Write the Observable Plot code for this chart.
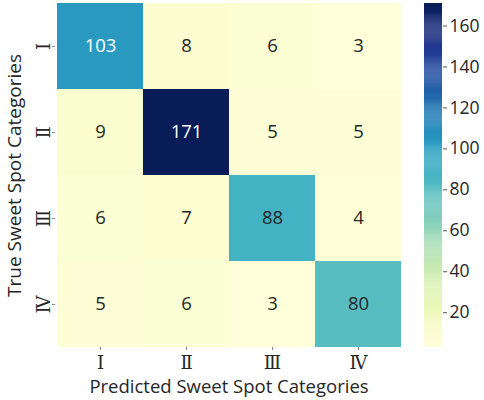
<!DOCTYPE html>
<html>
<head>
<meta charset="utf-8">
<script src="https://cdn.jsdelivr.net/npm/d3@7"></script>
<script src="https://cdn.jsdelivr.net/npm/@observablehq/plot@0.6"></script>
<style>
  html, body { margin: 0; padding: 0; background: #fff; }
  #wrap { position: relative; width: 484px; height: 400px; }
  #wrap svg { position: absolute; top: 0; overflow: visible; }
</style>
</head>
<body>
<div id="wrap"></div>
<script>
const trueLabels = ["Ⅰ", "Ⅱ", "Ⅲ", "Ⅳ"];
const predLabels = ["Ⅰ", "Ⅱ", "Ⅲ", "Ⅳ"];
const matrix = [
  [103, 8, 6, 3],
  [9, 171, 5, 5],
  [6, 7, 88, 4],
  [5, 6, 3, 80]
];
const colorTicks = [20, 40, 60, 80, 100, 120, 140, 160];
const xTitle = "Predicted Sweet Spot Categories";
const yTitle = "True Sweet Spot Categories";

const cells = [];
matrix.forEach((row, i) => row.forEach((v, j) => cells.push({t: trueLabels[i], p: predLabels[j], v})));
const vmin = d3.min(cells, d => d.v), vmax = d3.max(cells, d => d.v);
const colorOpts = {type: "linear", scheme: "YlGnBu", domain: [vmin, vmax]};
const font = "'Open Sans', 'Noto Sans', sans-serif";
const romanFont = "'DejaVu Serif', serif";

const main = Plot.plot({
  width: 484, height: 400,
  marginLeft: 55, marginRight: 82, marginTop: 3, marginBottom: 53,
  style: {fontFamily: font, color: "#262626", background: "transparent"},
  x: {domain: predLabels, padding: 0, label: null},
  y: {domain: trueLabels, padding: 0, label: null},
  color: colorOpts,
  marks: [
    Plot.cell(cells, {x: "p", y: "t", fill: "v"}),
    Plot.text(cells, {x: "p", y: "t", text: d => String(d.v), fontSize: 18.5,
      fill: d => { const c = d3.lab(d3.interpolateYlGnBu((d.v - vmin) / (vmax - vmin))); return c.l < 60 ? "#ffffff" : "#262626"; }}),
    Plot.axisX({tickSize: 3, stroke: "#888", fontSize: 18, tickPadding: 6, fontFamily: romanFont, label: null}),
    Plot.axisY({tickSize: 3, stroke: "#888", fontSize: 18, tickPadding: 3, tickRotate: -90, fontFamily: romanFont, label: null}),
    Plot.text([xTitle], {frameAnchor: "bottom", dy: 40, text: d => d, fontSize: 18.5, textAnchor: "middle", lineAnchor: "middle"}),
    Plot.text([yTitle], {frameAnchor: "left", dx: -41, rotate: -90, text: d => d, fontSize: 19, textAnchor: "middle", lineAnchor: "middle"})
  ]
});
main.style.left = "0px";
document.getElementById("wrap").appendChild(main);

const step = 0.5;
const strips = d3.range(vmin, vmax, step);
const bar = Plot.plot({
  width: 80, height: 400,
  marginLeft: 0, marginRight: 62, marginTop: 3, marginBottom: 53,
  style: {fontFamily: font, color: "#262626", background: "transparent"},
  x: {domain: [0, 1], axis: null},
  y: {domain: [vmin, vmax], label: null},
  color: colorOpts,
  marks: [
    Plot.rect(strips, {x1: 0, x2: 1, y1: d => d, y2: d => Math.min(d + step + 0.1, vmax), fill: d => d + step / 2}),
    Plot.axisY({anchor: "right", ticks: colorTicks, tickSize: 4, stroke: "#555", fontSize: 17.5, tickPadding: 3, label: null})
  ]
});
bar.style.left = "424px";
document.getElementById("wrap").appendChild(bar);
</script>
</body>
</html>
